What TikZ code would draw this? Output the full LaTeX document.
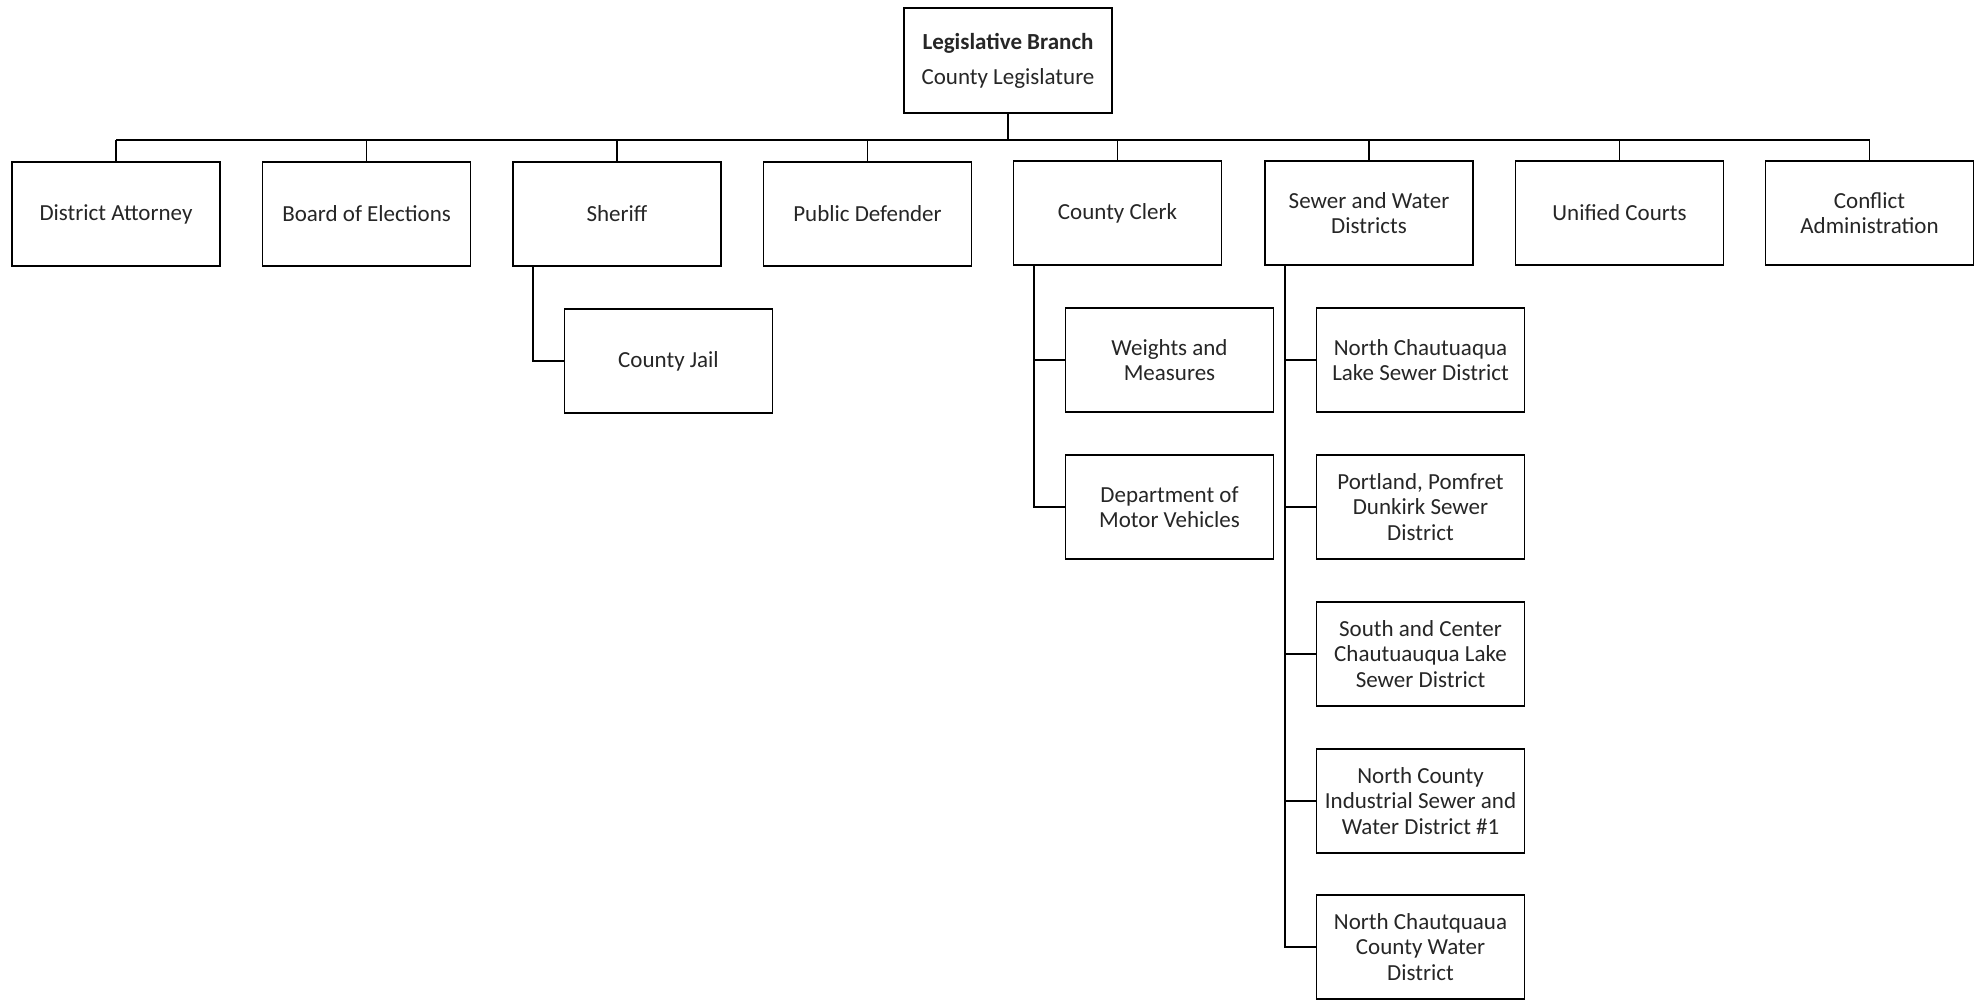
\documentclass[tikz,border=0pt]{standalone}
\usepackage{fontspec}
\setmainfont{Carlito}
\begin{document}
\begin{tikzpicture}[x=1pt,y=-1pt,
  box/.style={draw, line width=1.6pt, minimum width=208pt, minimum height=104pt, align=center, inner sep=0pt, font=\fontsize{23}{25.5}\selectfont, text=black!85},
  conn/.style={line width=1.6pt}]
\useasboundingbox[fill=white] (0,0) rectangle (1984,1000);
% top
\node[box, minimum height=105pt, font=\fontsize{23}{35}\selectfont] (leg) at (1008,60.5) {\textbf{Legislative Branch}\\County Legislature};
\coordinate (busy) at (0,140);
% first row
\node[box] (da)  at (116,214)    {District Attorney};
\node[box] (boe) at (366.6,214)  {Board of Elections};
\node[box] (sh)  at (617,214)    {Sheriff};
\node[box] (pd)  at (867.5,214)  {Public Defender};
\node[box] (cc)  at (1117.5,213) {County Clerk};
\node[box] (sw)  at (1369,213)   {Sewer and Water\\Districts};
\node[box] (uc)  at (1619.5,213) {Unified Courts};
\node[box] (ca)  at (1869.5,213) {Conflict\\Administration};
% sub boxes
\node[box] (jail) at (668.5,361) {County Jail};
\node[box] (wm)   at (1169.5,360) {Weights and\\Measures};
\node[box] (dmv)  at (1169.5,507) {Department of\\Motor Vehicles};
\node[box] (ncl)  at (1420.5,360) {North Chautuaqua\\Lake Sewer District};
\node[box] (ppd)  at (1420.5,507) {Portland, Pomfret\\Dunkirk Sewer\\District};
\node[box] (scl)  at (1420.5,654) {South and Center\\Chautuauqua Lake\\Sewer District};
\node[box] (nci)  at (1420.5,801) {North County\\Industrial Sewer and\\Water District \#1};
\node[box] (ncw)  at (1420.5,947) {North Chautquaua\\County Water\\District};
% bus
\draw[conn] (leg.south) -- (leg.south |- busy);
\draw[conn] (da.north |- busy) -- (ca.north |- busy);
\foreach \n in {da,boe,sh,pd,cc,sw,uc,ca}{
  \draw[conn] (\n.north |- busy) -- (\n.north);
}
% sub connectors
\draw[conn] ([xshift=21pt]sh.south west) |- (jail.west);
\draw[conn] ([xshift=21pt]cc.south west) |- (dmv.west);
\draw[conn] ([xshift=21pt]cc.south west |- wm.west) -- (wm.west);
\draw[conn] ([xshift=21pt]sw.south west) |- (ncw.west);
\foreach \n in {ncl,ppd,scl,nci}{
  \draw[conn] ([xshift=21pt]sw.south west |- \n.west) -- (\n.west);
}
\end{tikzpicture}
\end{document}
